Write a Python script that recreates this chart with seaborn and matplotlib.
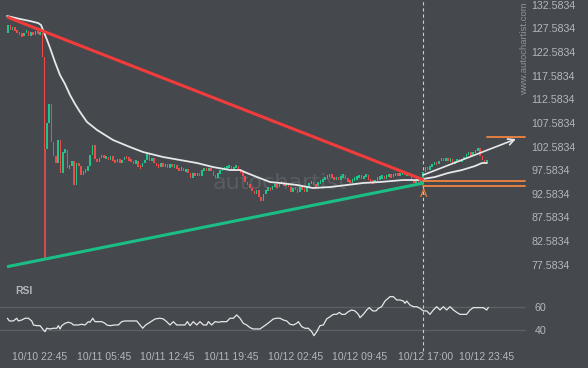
import numpy as np
import matplotlib
matplotlib.use("Agg")
import matplotlib.pyplot as plt
import seaborn as sns

# ---------------- data ----------------
first_open = 126.5
closes = [
    128.2, 127.3, 127.9, 127.0, 126.8, 126.3, 126.1, 126.6, 127.1, 125.9, 126.8, 126.3, 126.9, 126.5, 126.6,
    121.5, 102.0,
    107.5, 111.6, 103.6, 100.5, 99.0, 103.9, 97.0, 101.5, 101.8, 98.0,
    98.5, 99.5, 94.5, 99.0, 98.5, 96.5, 97.3, 97.5, 98.5, 100.8,
    102.9, 100.0, 99.2, 100.2, 100.8, 100.2, 100.3, 99.8, 100.5, 99.6,
    99.2, 100.0, 99.0, 99.8, 100.3, 100.2, 99.7, 99.5, 99.0, 99.6,
    98.3, 98.2, 99.0, 99.7, 100.9, 99.5, 100.1, 99.1, 98.5, 98.4,
    99.0, 98.3, 98.9, 98.0, 98.8, 98.3, 98.6, 97.9, 97.6, 98.0,
    97.3, 97.8, 97.0, 95.9, 97.0, 96.4, 96.9, 96.4, 97.6, 97.9,
    97.4, 98.0, 97.4, 96.4, 96.0, 96.9, 97.5, 97.8, 98.1, 98.3,
    98.4, 97.6, 98.2, 98.4, 97.6, 97.2, 96.3, 95.0, 94.5, 93.9,
    93.2, 92.6, 93.3, 92.0, 91.0, 92.6, 93.4, 93.8, 93.3, 94.2,
    94.5, 94.0, 94.8, 95.0, 94.2, 94.8, 94.0, 93.0, 93.9, 93.4,
    93.0, 94.0, 93.6, 93.0, 94.0, 94.8, 95.0, 94.6, 94.2, 95.0,
    95.2, 95.6, 96.0, 96.3, 96.6, 96.1, 95.6, 96.0, 95.7, 96.2,
    96.5, 95.7, 95.3, 95.0, 95.6, 95.8, 96.1, 96.5, 95.8, 96.3,
    96.5, 95.6, 95.2, 95.0, 95.5, 95.9, 96.0, 96.2, 95.9, 96.3,
    96.5, 96.2, 96.6, 96.8, 96.4, 96.9, 97.0, 96.6, 96.9, 96.3,
    95.3, 95.0, 95.5, 94.6, 95.3, 97.2, 98.2, 97.6, 98.4, 98.7,
    99.3, 98.8, 99.5, 100.1, 99.6, 100.1, 99.5, 99.9, 99.0, 99.5,
    99.8, 99.3, 99.9, 100.1, 100.9, 101.2, 100.8, 101.4, 101.8, 102.2,
    100.5, 99.7, 99.2, 99.6,
]
spike_bar = 16
spike_low = 79.0
bar_start_hour = -3.5      # hours relative to 10/10 22:45
bar_step_hour = 0.25       # 15-minute candles

ma_hours = [-3.62, -2.19, -1.10, -0.22, 0.11, 0.33, 0.77, 1.10, 1.64, 2.19, 2.74, 3.29, 3.84,
            4.39, 5.15, 6.25, 8.00, 9.87, 11.29, 13.49, 15.35, 17.21, 18.97, 20.83, 21.93,
            22.70, 23.79, 25.22, 26.32, 28.18, 29.93, 31.80, 33.66, 35.42, 37.28, 39.80,
            41.34, 42.00, 43.31, 44.74, 46.27, 47.70, 48.46, 49.01]
ma_values = [130.19, 129.56, 129.13, 128.71, 128.29, 127.23, 125.12, 123.42, 120.46, 117.71,
             115.80, 113.48, 111.57, 109.88, 107.77, 106.08, 103.96, 102.47, 101.42, 100.36,
             99.73, 99.09, 98.24, 97.61, 97.61, 96.97, 96.13, 95.07, 94.86, 94.44, 93.80,
             94.01, 94.44, 94.86, 95.07, 95.49, 95.49, 95.71, 96.13, 96.97, 97.61, 98.45,
             99.09, 99.09]

rsi_hours = [-3.58, -3.36, -2.92, -2.56, -2.38, -2.01, -1.64, -1.28, -0.91, -0.73, -0.37, 0.00,
             0.37, 0.55, 0.73, 1.10, 1.46, 1.83, 2.01, 2.19, 2.38, 2.74, 3.11, 3.47, 3.65,
             4.20, 4.57, 4.93, 5.30, 5.48, 5.78, 6.03, 6.40, 6.76, 7.13, 7.31, 7.68, 8.22,
             8.59, 8.95, 9.32, 9.87, 10.60, 10.96, 11.26, 11.51, 11.70, 12.06, 12.61, 13.16,
             13.52, 13.89, 14.25, 14.62, 14.99, 15.35, 15.90, 16.15, 16.45, 16.81, 17.18,
             17.54, 17.91, 18.27, 18.46, 18.82, 19.19, 19.56, 19.92, 20.47, 20.83, 21.20,
             21.56, 21.93, 22.29, 22.66, 23.03, 23.39, 23.76, 24.12, 24.49, 24.85, 25.22,
             25.58, 25.95, 26.32, 26.68, 27.05, 27.41, 27.78, 28.14, 28.33, 28.69, 29.06,
             29.42, 29.79, 30.04, 30.34, 30.70, 31.07, 31.43, 31.80, 32.16, 32.53, 32.82,
             33.08, 33.44, 33.81, 34.17, 34.54, 34.91, 35.09, 35.45, 35.82, 36.11, 36.48,
             36.84, 37.10, 37.46, 37.83, 38.08, 38.38, 38.74, 39.11, 39.47, 39.84, 40.02,
             40.20, 40.57, 40.94, 41.30, 41.67, 42.03, 42.40, 42.76, 43.13, 43.49, 43.86,
             44.23, 44.59, 44.96, 45.33, 45.69, 46.05, 46.42, 46.78, 47.15, 47.52, 47.88,
             48.25, 48.61, 48.98, 49.16]
rsi_values = [50.2, 47.9, 47.9, 50.2, 47.9, 48.7, 50.2, 50.2, 47.9, 44.5, 43.9, 43.9,
              40.3, 38.8, 41.7, 41.1, 41.7, 41.7, 43.9, 41.1, 43.9, 45.9, 46.8, 45.9, 44.5,
              44.5, 45.1, 44.5, 47.3, 46.8, 50.2, 47.3, 47.3, 47.3, 45.9, 44.5, 43.9, 44.5,
              44.5, 47.3, 47.9, 47.9, 47.9, 44.5, 41.7, 43.9, 45.1, 46.8, 49.6, 50.2,
              49.6, 47.3, 44.5, 47.3, 44.5, 44.5, 44.5, 47.3, 43.9, 47.3, 44.5,
              47.3, 44.5, 44.5, 47.3, 44.5, 47.3, 46.8, 47.3, 47.3, 50.2, 50.2,
              53.0, 50.2, 45.9, 44.5, 42.2, 41.1, 41.1, 41.1, 43.1, 45.1, 47.3,
              49.6, 50.2, 50.2, 48.7, 47.9, 45.1, 44.5, 45.9, 47.3, 43.1, 41.7,
              41.7, 38.8, 35.4, 38.8, 43.9, 44.5, 49.6, 51.5, 53.5, 53.5, 55.2,
              53.5, 53.5, 55.8, 57.2, 56.4, 53.5, 50.7, 53.5, 57.2, 59.2, 56.4,
              56.4, 58.6, 60.0, 64.8, 66.5, 68.5, 68.5, 65.7, 65.7, 64.8, 62.9,
              64.8, 61.4, 60.0, 60.0, 58.6, 56.4, 56.4, 53.5, 57.2, 60.0, 57.2,
              60.0, 57.2, 60.0, 57.2, 55.2, 53.5, 53.5, 53.5, 57.2, 59.2, 59.2,
              59.2, 59.2, 57.2, 59.4]

tick_hours = [0, 7, 14, 21, 28, 35, 42.25, 49]
tick_labels = ["10/10 22:45", "10/11 05:45", "10/11 12:45", "10/11 19:45",
               "10/12 02:45", "10/12 09:45", "10/12 17:00", "10/12 23:45"]
price_ticks = [77.5834, 82.5834, 87.5834, 92.5834, 97.5834, 102.5834, 107.5834,
               112.5834, 117.5834, 122.5834, 127.5834, 132.5834]
rsi_ticks = [40, 60]

resistance_hours = [-3.62, 42.1]
resistance_prices = [129.98, 95.49]
support_hours = [-3.62, 42.1]
support_prices = [77.15, 94.86]
zone_hours = [42.0, 53.2]
zone_levels = [95.39, 94.16]
target_hours = [49.0, 53.2]
target_level = 104.53
arrow_hours = [42.0, 52.19]
arrow_prices = [96.55, 104.17]
breakout_hour = 42.05

# ---------------- style ----------------
BG = "#45484d"
TXT = "#b3b6ba"
GREEN_C = "#1fc48a"
RED_C = "#f24a4a"
RED_L = "#f23c3c"
GREEN_L = "#1bbf86"
ORANGE = "#f0843f"
WHITE = "#e6e7e8"

sns.set_style("dark")
plt.rcParams["font.family"] = ["Liberation Sans", "DejaVu Sans"]

fig = plt.figure(figsize=(5.88, 3.68), dpi=100)
fig.patch.set_facecolor(BG)

W, H = 588.0, 368.0
ax = fig.add_axes([0, 1 - 280 / H, 526 / W, 280 / H])
axr = fig.add_axes([0, 1 - 345 / H, 526 / W, 62 / H], sharex=ax)
for a in (ax, axr):
    a.set_facecolor(BG)
    a.grid(False)
    for s in a.spines.values():
        s.set_visible(False)

xmin, xmax = -4.39, 53.29
ax.set_xlim(xmin, xmax)
ax.set_ylim(74.34, 133.58)
axr.set_ylim(27.5, 80.1)

# watermark (behind everything)
ax.text(280 / 526, 1 - 183 / 280, "autochartist", transform=ax.transAxes, color="#595c61",
        fontsize=16, ha="center", va="center", zorder=0.5, family=["DejaVu Sans"])
fig.text(524.5 / W, 1 - 49 / H, "www.autochartist.com", rotation=90, color="#8f9296",
         fontsize=6.8, ha="center", va="center")

# candles
c = np.array(closes)
n = len(c)
t = bar_start_hour + bar_step_hour * np.arange(n)
o = np.r_[first_open, c[:-1]]
up = c >= o
mid = (o + c) / 2
height = np.maximum(np.abs(c - o), 0.7)
ax.bar(t, height, bottom=mid - height / 2, width=0.17, color=np.where(up, GREEN_C, RED_C),
       linewidth=0, zorder=3)
ax.vlines(t[spike_bar], spike_low, min(o[spike_bar], c[spike_bar]), color=RED_C, lw=1.2,
          zorder=3)

# moving average
sns.lineplot(x=ma_hours, y=ma_values, ax=ax, color=WHITE, lw=1.3, zorder=4)

# trend lines
ax.plot(resistance_hours, resistance_prices, color=RED_L, lw=2.2, zorder=5,
        solid_capstyle="butt")
ax.plot(support_hours, support_prices, color=GREEN_L, lw=2.2, zorder=5,
        solid_capstyle="butt")
for lv in zone_levels:
    ax.plot(zone_hours, [lv, lv], color=ORANGE, lw=1.3, zorder=5)
ax.plot(target_hours, [target_level, target_level], color=ORANGE, lw=1.3, zorder=5)
ax.annotate("", xy=(arrow_hours[1], arrow_prices[1]), xytext=(arrow_hours[0], arrow_prices[0]),
            arrowprops=dict(arrowstyle="->", color=WHITE, lw=1.2, mutation_scale=11,
                            shrinkA=0, shrinkB=0), zorder=6)
ax.text(breakout_hour, 92.5, "A", color=ORANGE, fontsize=8, ha="center", va="center",
        zorder=6)

# breakout vertical
ax.axvline(breakout_hour, color="#c9cbce", lw=0.8, ls=(0, (3, 2.5)), zorder=2)
axr.axvline(breakout_hour, ymin=-0.09, ymax=1.06, color="#c9cbce", lw=0.8,
            ls=(0, (3, 2.5)), zorder=2, clip_on=False)

# price axis
ax.yaxis.tick_right()
ax.set_yticks(price_ticks)
ax.set_yticklabels([f"{p:.4f}" for p in price_ticks])
ax.tick_params(axis="y", length=0, pad=4, labelsize=7.7, labelcolor=TXT)
ax.tick_params(axis="x", bottom=False, labelbottom=False, length=0)
ax.set_xlabel("")
ax.set_ylabel("")

# RSI
for lv in rsi_ticks:
    axr.axhline(lv, color="#5c5f64", lw=1.0, zorder=1)
sns.lineplot(x=rsi_hours, y=rsi_values, ax=axr, color=WHITE, lw=0.9, zorder=3)
axr.yaxis.tick_right()
axr.set_yticks(rsi_ticks)
axr.set_yticklabels([str(v) for v in rsi_ticks])
axr.tick_params(axis="y", length=0, pad=6, labelsize=7.7, labelcolor=TXT)
axr.set_xticks(tick_hours)
axr.set_xticklabels(tick_labels)
axr.tick_params(axis="x", length=0, pad=5, labelsize=7.5, labelcolor=TXT)
axr.set_xlabel("")
axr.set_ylabel("")
fig.text(15 / W, 1 - 291.5 / H, "RSI", color=TXT, fontsize=7.5, fontweight="bold",
         ha="left", va="center")

fig.savefig("out.png", dpi=100, facecolor=BG)
